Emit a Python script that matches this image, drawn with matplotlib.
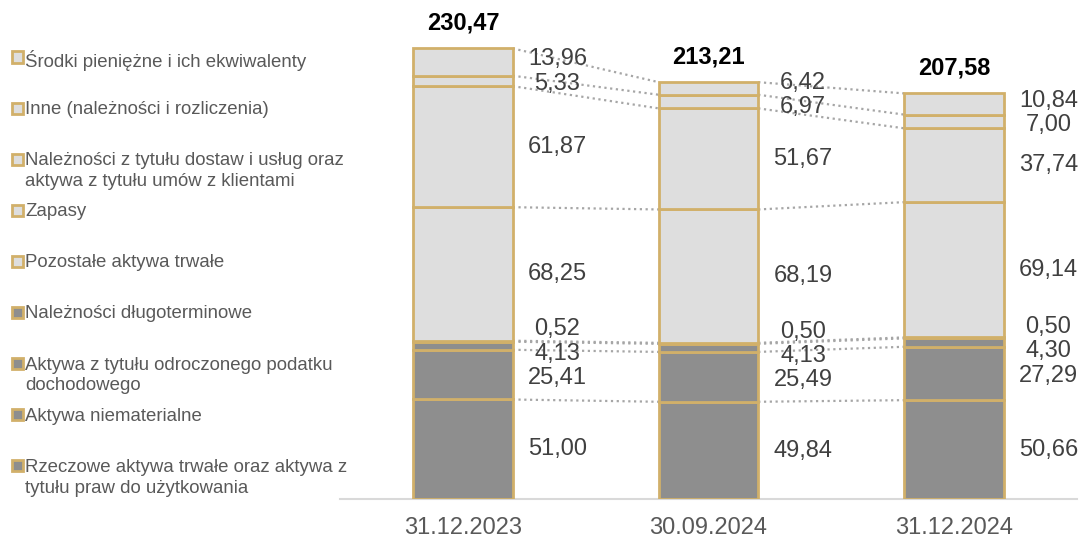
import matplotlib.pyplot as plt
from matplotlib.patches import Rectangle

plt.rcParams['font.family'] = ['Liberation Sans', 'DejaVu Sans']

# Dates on the x axis
dates = ["31.12.2023", "30.09.2024", "31.12.2024"]

# Stacked series, bottom to top (mln PLN)
rzeczowe = [51.00, 49.84, 50.66]
niematerialne = [25.41, 25.49, 27.29]
odroczony = [4.13, 4.13, 4.30]
nal_dlugoterm = [0.52, 0.50, 0.50]
pozostale = [68.25, 68.19, 69.14]
zapasy = [0, 0, 0]  # not visible in the chart
nal_dostawy = [61.87, 51.67, 37.74]
inne = [5.33, 6.97, 7.00]
srodki = [13.96, 6.42, 10.84]

totals = [230.47, 213.21, 207.58]

series = [rzeczowe, niematerialne, odroczony, nal_dlugoterm,
          pozostale, zapasy, nal_dostawy, inne, srodki]
names = ["Rzeczowe aktywa trwałe oraz aktywa z\ntytułu praw do użytkowania",
         "Aktywa niematerialne",
         "Aktywa z tytułu odroczonego podatku\ndochodowego",
         "Należności długoterminowe",
         "Pozostałe aktywa trwałe",
         "Zapasy",
         "Należności z tytułu dostaw i usług oraz\naktywa z tytułu umów z klientami",
         "Inne (należności i rozliczenia)",
         "Środki pieniężne i ich ekwiwalenty"]
dark = "#8E8E8E"
light = "#DEDEDE"
fills = [dark, dark, dark, dark, light, light, light, light, light]
gold = "#D1B06A"


def fmt(v):
    return f"{v:.2f}".replace(".", ",")


def spread(centers, gap):
    # push label positions apart so they keep a minimum gap
    clusters = []
    for c in centers:
        clusters.append([c, 1])
        while len(clusters) > 1:
            m1, n1 = clusters[-2]
            m2, n2 = clusters[-1]
            if (m2 - (n2 - 1) * gap / 2) - (m1 + (n1 - 1) * gap / 2) < gap:
                clusters[-2:] = [[(m1 * n1 + m2 * n2) / (n1 + n2), n1 + n2]]
            else:
                break
    out = []
    for m, n in clusters:
        out += [m - (n - 1) * gap / 2 + k * gap for k in range(n)]
    return out


fig = plt.figure(figsize=(10.8, 5.38), dpi=100)
ax = fig.add_axes([0.315, 0.072, 0.682, 0.909])

x = list(range(len(dates)))
width = 0.405

bottoms = [0.0] * len(x)
tops = [[] for _ in x]  # cumulative top of every visible segment, per bar
centers = [[] for _ in x]
labels = [[] for _ in x]

for vals, fc in zip(series, fills):
    for i, v in enumerate(vals):
        if v == 0:
            continue
        ax.bar(x[i], v, width, bottom=bottoms[i], color=fc,
               edgecolor=gold, linewidth=2, zorder=3)
        centers[i].append(bottoms[i] + v / 2)
        labels[i].append(fmt(v))
        bottoms[i] += v
        tops[i].append(bottoms[i])

# dotted connectors between neighbouring bars
for i in range(len(x) - 1):
    for a, b in zip(tops[i], tops[i + 1]):
        ax.plot([x[i] + width / 2, x[i + 1] - width / 2], [a, b],
                linestyle=(0, (1, 1.6)), color="#A6A6A6", linewidth=1.6, zorder=2)

# value labels to the right of each bar
for i in x:
    ys = spread(centers[i], 12.5)
    for y, t in zip(ys, labels[i]):
        ax.text(x[i] + 0.385, y, t, ha="center", va="center",
                fontsize=17, color="#404040")
    ax.text(x[i], totals[i] + 13, fmt(totals[i]), ha="center", va="center",
            fontsize=17, fontweight="bold", color="black")

ax.set_xlim(-0.5, 2.5)
ax.set_ylim(0, 250)
ax.set_xticks(x)
ax.set_xticklabels(dates, fontsize=17, color="#595959")
ax.tick_params(axis="x", length=0, pad=12.5)
ax.set_yticks([])
for side in ["left", "right", "top"]:
    ax.spines[side].set_visible(False)
ax.spines["bottom"].set_color("#D9D9D9")
ax.spines["bottom"].set_linewidth(1.5)

# legend drawn by hand, top entry first
W, H = 1080, 538
for k, (name, fc) in enumerate(zip(names[::-1], fills[::-1])):
    ry = 57 + 51.1 * k
    fig.add_artist(Rectangle((11.5 / W, 1 - (ry + 5.5) / H), 11 / W, 11 / H,
                             transform=fig.transFigure, facecolor=fc,
                             edgecolor=gold, linewidth=2))
    fig.text(25 / W, 1 - (ry - 7) / H, name, ha="left", va="top",
             fontsize=13.4, color="#595959", linespacing=1.3)

fig.savefig("out.png", dpi=100)
